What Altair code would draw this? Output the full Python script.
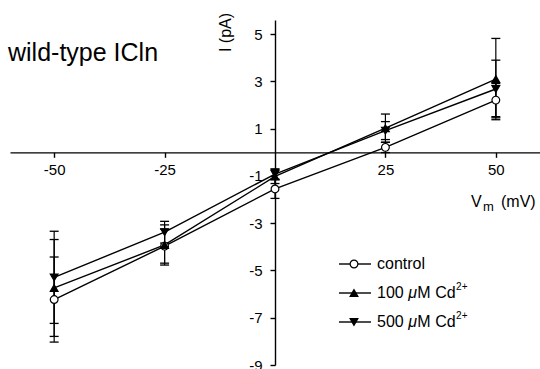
import altair as alt
import pandas as pd

# ---- data ----
voltages = [-50, -25, 0, 25, 50]
series_names = ["control", "100 µM Cd2+", "500 µM Cd2+"]
control = [-6.23, -3.97, -1.55, 0.21, 2.21]
control_err = [1.80, 0.72, 0.40, 0.22, 0.70]
cd100 = [-5.74, -3.92, -1.02, 1.02, 3.10]
cd100_err = [2.05, 0.85, 0.30, 0.60, 1.72]
cd500 = [-5.29, -3.38, -0.92, 0.92, 2.68]
cd500_err = [1.95, 0.46, 0.22, 0.38, 1.22]

x_ticks = [-50, -25, 25, 50]
y_ticks = [-9, -7, -5, -3, -1, 1, 3, 5]

rows = []
for name, vals, errs in [(series_names[0], control, control_err),
                         (series_names[1], cd100, cd100_err),
                         (series_names[2], cd500, cd500_err)]:
    for v, i, e in zip(voltages, vals, errs):
        rows.append({"series": name, "V": v, "I": i, "lo": i - e, "hi": i + e})
df = pd.DataFrame(rows)

FONT = "Liberation Sans"
W, H = 530, 345
PAD_L, PAD_T = 10, 20
X_DOM = [-60, 60]
Y_DOM = [-9, 5.6]

xscale = alt.Scale(domain=X_DOM, nice=False, zero=False)
yscale = alt.Scale(domain=Y_DOM, nice=False, zero=False)

x_axis = alt.Axis(values=x_ticks, offset=-(H * (0 - Y_DOM[0]) / (Y_DOM[1] - Y_DOM[0])),
                  tickSize=5, labelPadding=5, labelFontSize=15, title=None,
                  grid=False, labelOverlap=False, labelFlush=False,
                  labelExpr="'' + datum.value")
y_axis = alt.Axis(values=y_ticks, offset=-(W * (0 - X_DOM[0]) / (X_DOM[1] - X_DOM[0])),
                  tickSize=5, labelPadding=8, labelFontSize=15, grid=False,
                  labelOverlap=False, labelExpr="'' + datum.value",
                  title="I (pA)", titleX=-50, titleY=12, titleAngle=270,
                  titleAlign="center", titleBaseline="middle", titleFontSize=16,
                  titleFontWeight="normal")

base = alt.Chart(df)

bars = base.mark_rule(color="black", strokeWidth=1.2).encode(
    x=alt.X("V:Q", scale=xscale, axis=x_axis),
    y=alt.Y("lo:Q", scale=yscale, axis=y_axis),
    y2="hi:Q",
)
caps_lo = base.mark_tick(orient="horizontal", size=9, thickness=1.3, color="black", opacity=1).encode(
    x=alt.X("V:Q", scale=xscale), y=alt.Y("lo:Q", scale=yscale))
caps_hi = base.mark_tick(orient="horizontal", size=9, thickness=1.3, color="black", opacity=1).encode(
    x=alt.X("V:Q", scale=xscale), y=alt.Y("hi:Q", scale=yscale))

lines = base.mark_line(color="black", strokeWidth=1.4).encode(
    x=alt.X("V:Q", scale=xscale), y=alt.Y("I:Q", scale=yscale), detail="series:N")

shape_scale = alt.Scale(domain=series_names, range=["circle", "triangle-up", "triangle-down"])
fill_scale = alt.Scale(domain=series_names, range=["white", "black", "black"])
points = base.mark_point(filled=True, size=60, opacity=1, strokeWidth=1.2).encode(
    x=alt.X("V:Q", scale=xscale), y=alt.Y("I:Q", scale=yscale),
    shape=alt.Shape("series:N", scale=shape_scale, legend=None),
    fill=alt.Fill("series:N", scale=fill_scale, legend=None),
    stroke=alt.value("black"),
)

one = pd.DataFrame({"a": [0]})


def txt(text, x, y, size=16, style="normal", baseline="alphabetic"):
    return alt.Chart(one).mark_text(text=text, font=FONT, fontSize=size, fontStyle=style,
                                    align="left", baseline=baseline, color="black").encode(
        x=alt.value(x - PAD_L), y=alt.value(y - PAD_T))


annots = [
    txt("wild-type ICln", 8, 61, size=25),
    txt("V", 471, 207, size=16),
    txt("m", 483, 211, size=13),
    txt("(mV)", 501, 207, size=16),
]

# manual legend
leg_rows = [264, 293, 322]
leg_shapes = ["circle", "triangle-up", "triangle-down"]
leg_fill = ["white", "black", "black"]
legend_layers = []
for k in range(3):
    yy = leg_rows[k] - PAD_T
    legend_layers.append(alt.Chart(one).mark_rule(color="black", strokeWidth=1.4).encode(
        x=alt.value(339 - PAD_L), x2=alt.value(371 - PAD_L), y=alt.value(yy)))
    legend_layers.append(alt.Chart(one).mark_point(shape=leg_shapes[k], filled=True, size=60,
                                                   opacity=1, fill=leg_fill[k], stroke="black",
                                                   strokeWidth=1.2).encode(
        x=alt.value(354 - PAD_L), y=alt.value(yy)))

fs = 16
x0 = 377
legend_layers.append(txt("control", x0, leg_rows[0], size=fs, baseline="middle"))
for k, conc in [(1, "100 "), (2, "500 ")]:
    yy = leg_rows[k]
    xa = x0
    legend_layers.append(txt(conc, xa, yy, size=fs, baseline="middle"))
    xa += 1.946 * fs
    legend_layers.append(txt("μ", xa, yy, size=fs, style="italic", baseline="middle"))
    xa += 0.576 * fs
    legend_layers.append(txt("M Cd", xa, yy, size=fs, baseline="middle"))
    xa += 2.389 * fs + 0.5
    legend_layers.append(txt("2+", xa, yy - 6, size=10, baseline="middle"))

chart = alt.layer(bars, caps_lo, caps_hi, lines, points, *annots, *legend_layers).properties(
    width=W, height=H,
    autosize=alt.AutoSizeParams(type="none"),
    padding={"left": PAD_L, "top": PAD_T, "right": 0, "bottom": 4},
    background="white",
).configure_view(stroke=None).configure_axis(
    domainColor="black", tickColor="black", labelColor="black", titleColor="black",
    labelFont=FONT, titleFont=FONT, domainWidth=1.4, tickWidth=1.4,
)

chart.save("out.html", embed_options={"renderer": "svg", "actions": False})
